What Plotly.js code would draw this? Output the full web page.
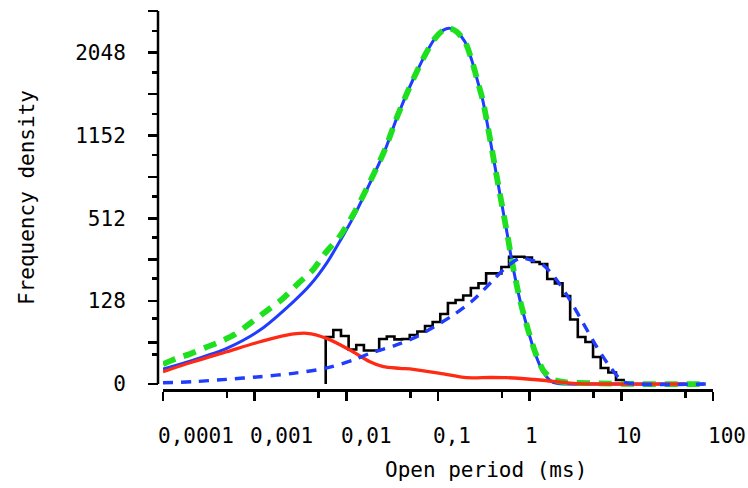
<!DOCTYPE html>
<html><head><meta charset="utf-8">
<script src="https://cdn.plot.ly/plotly-3.0.1.min.js"></script>
<style>html,body{margin:0;padding:0;background:#fff}#chart{width:748px;height:488px}</style>
</head><body><div id="chart"></div>
<script>
// ---- Data (open period in ms, frequency density) ----
const histEdges = [0.005957, 0.007216, 0.008743, 0.01059, 0.01283, 0.01555, 0.01884, 0.02282, 0.02765, 0.0335,
  0.04058, 0.04916, 0.05957, 0.07216, 0.08743, 0.1059, 0.1283, 0.1555, 0.1884, 0.2282,
  0.2765, 0.335, 0.4058, 0.4916, 0.5957, 0.7216, 0.8743, 1.059, 1.283, 1.555,
  1.884, 2.282, 2.765, 3.35, 4.058, 4.916, 5.957, 7.216, 8.743, 10.59];
const histDensity = [41.1, 54.3, 42.9, 22.2, 28.3, 20.9, 20.9, 37.7, 42.0, 37.2,
  37.7, 44.7, 51.3, 62.7, 71.6, 91.3, 122.2, 131.4, 145.9, 171.7,
  188.9, 228.3, 228.3, 255, 301.9, 301.9, 298, 277.2, 268.2, 205.4,
  188.9, 144.2, 77.5, 41.1, 32.9, 13.6, 4.77, 2.46, 0.30];

const totalX = [0.0001, 0.000141, 0.000197, 0.000287, 0.000419, 0.00061, 0.000889, 0.00147, 0.00205, 0.00299,
  0.00437, 0.00585, 0.008531, 0.01243, 0.01811, 0.02642, 0.0354, 0.04742, 0.05861, 0.07211,
  0.09268, 0.1143, 0.1352, 0.16, 0.1968, 0.2333, 0.2685, 0.3076, 0.3342, 0.4406,
  0.5848, 0.6368, 0.7834, 0.9594, 1.143, 1.409, 1.795, 2.535, 5.012, 15.85, 79.43];
const totalY = [7.4, 12.3, 16.8, 24.5, 33.3, 46, 68.6, 106.7, 137, 189,
  245, 318, 409, 556, 762, 1026, 1320, 1610, 1817, 2016,
  2226, 2334, 2357, 2312, 2183, 1955, 1721, 1502, 1331, 790,
  386, 286, 132, 55, 19.5, 3.5, 0.4, 0.05, 0.01, 0, 0];

const mainX = [0.0001, 0.000214, 0.000495, 0.001143, 0.002636, 0.004018, 0.006109, 0.008531, 0.01243, 0.01811,
  0.02642, 0.0354, 0.04742, 0.05861, 0.07211, 0.09268, 0.1143, 0.1352, 0.16, 0.1968,
  0.2333, 0.2685, 0.3076, 0.3342, 0.4406, 0.5848, 0.6368, 0.7834, 0.9594, 1.143,
  1.409, 1.795, 2.535, 5.012, 15.85, 79.43];
const mainY = [4.2, 10.7, 23.7, 54.3, 126, 182.6, 272.7, 381, 538, 753,
  1020, 1315, 1610, 1817, 2016, 2226, 2334, 2357, 2312, 2183,
  1955, 1721, 1502, 1331, 790, 386, 286, 131, 54, 18,
  2.5, 0.05, 0, 0, 0, 0];

const fastX = [0.0001, 0.000214, 0.000495, 0.001143, 0.002234, 0.003698, 0.006109, 0.01096, 0.01811, 0.02529,
  0.03846, 0.05383, 0.1052, 0.2056, 0.369, 0.5623, 1.297, 2.992, 6.918, 50.12];
const fastY = [2.82, 9.26, 19.4, 33.3, 44.7, 47.9, 38.9, 21.5, 9.26, 5.57,
  4.59, 4.0, 2.13, 0.74, 0.79, 0.74, 0.30, 0.01, 0, 0];

const slowX = [0.0001, 0.000214, 0.000495, 0.001143, 0.002636, 0.00585, 0.01191, 0.01811, 0.03251, 0.05383,
  0.08892, 0.1469, 0.2427, 0.4009, 0.561, 0.7834, 1.096, 1.409, 1.972, 2.754,
  3.846, 5.383, 7.516, 10.5, 14.69, 89.1];
const slowY = [0.03, 0.1, 0.41, 1.0, 2.13, 4.59, 10.7, 17.6, 26.9, 38.9,
  59.9, 88.7, 131.4, 201.5, 256.3, 294.4, 283.2, 263.8, 201.5, 131.4,
  68.6, 25.9, 5.57, 0.1, 0, 0];

const xTickVals = [0.0001, 0.001, 0.01, 0.1, 1, 10, 100];
const xTickText = ['0,0001', '0,001', '0,01', '0,1', '1', '10', '100'];
const xMinorVals = [0.0005, 0.005, 0.05, 0.5, 5, 50];
const yTickVals = [0, 32, 128, 288, 512, 800, 1152, 1568, 2048, 2592];
const yTickText = ['0', '', '128', '', '512', '', '1152', '', '2048', ''];
const yMinorVals = [16, 80, 208, 400, 656, 976, 1360, 1808, 2320];
const xTitle = 'Open period (ms)';
const yTitle = 'Frequency density';

// ---- Square-root y scale ----
const sq = v => Math.sqrt(Math.max(v, 0));
const FONT = 'DejaVu Sans Mono, Liberation Mono, monospace';
const FS = 21;

const hx = [histEdges[0]];
const hy = [0];
for (let i = 0; i < histDensity.length; i++) { hx.push(histEdges[i]); hy.push(sq(histDensity[i])); }
hx.push(histEdges[histEdges.length - 1]); hy.push(0);

const traces = [
  {x: hx, y: hy, type: 'scatter', mode: 'lines', line: {shape: 'hv', color: '#000000', width: 2.6}, hoverinfo: 'skip'},
  {x: mainX, y: mainY.map(sq), type: 'scatter', mode: 'lines', line: {shape: 'spline', smoothing: 0.8, color: '#1f3cff', width: 3}},
  {x: totalX, y: totalY.map(sq), type: 'scatter', mode: 'lines', line: {shape: 'spline', smoothing: 0.8, color: '#1ee01e', width: 5.8, dash: '13px,9px'}},
  {x: fastX, y: fastY.map(sq), type: 'scatter', mode: 'lines', line: {shape: 'spline', smoothing: 0.8, color: '#ff2a14', width: 3.3}},
  {x: slowX, y: slowY.map(sq), type: 'scatter', mode: 'lines', line: {shape: 'spline', smoothing: 0.8, color: '#1f3cff', width: 3.4, dash: '10px,8px'}}
];

const W = 555, L0 = 158, T0 = 11, H = 378;
const yTop = sq(2592) + 0.01;
const annotations = xTickVals.map((v, i) => ({
  x: Math.log10(v), xref: 'x', y: 0, yref: 'paper', yshift: -47, xshift: -7,
  text: xTickText[i], showarrow: false, xanchor: 'left', yanchor: 'middle',
  font: {family: FONT, size: FS, color: '#000'}
}));
annotations.push({x: (486 - L0) / W, xref: 'paper', y: (T0 + H - 470) / H, yref: 'paper', text: xTitle, showarrow: false,
  xanchor: 'center', yanchor: 'middle', font: {family: FONT, size: FS, color: '#000'}});
annotations.push({x: (27 - L0) / W, xref: 'paper', y: (T0 + H - 198) / H, yref: 'paper', text: yTitle, showarrow: false,
  textangle: -90, xanchor: 'center', yanchor: 'middle', font: {family: FONT, size: FS, color: '#000'}});

const layout = {
  width: 748, height: 488,
  margin: {l: L0, r: 748 - L0 - W, t: T0, b: 488 - T0 - H, pad: 0},
  paper_bgcolor: '#fff', plot_bgcolor: '#fff', showlegend: false,
  xaxis: {type: 'log', range: [-4, 2], domain: [5 / W, 1], anchor: 'y',
    showline: true, linecolor: '#000', linewidth: 2.5, showgrid: false, zeroline: false,
    ticks: 'outside', ticklen: 9, tickwidth: 2.5, tickcolor: '#000',
    tickmode: 'array', tickvals: xTickVals, showticklabels: false,
    minor: {ticks: 'outside', tickmode: 'array', tickvals: xMinorVals, ticklen: 6, tickwidth: 2.5, tickcolor: '#000', showgrid: false}
  },
  yaxis: {range: [-0.68, yTop], anchor: 'free', position: 0,
    showline: false, showgrid: false, zeroline: false,
    ticks: 'outside', ticklen: 10, tickwidth: 2.5, tickcolor: '#000',
    tickmode: 'array', tickvals: yTickVals.map(sq), ticktext: yTickText,
    tickfont: {family: FONT, size: FS, color: '#000'}, ticklabelstandoff: 18,
    minor: {ticks: 'outside', tickmode: 'array', tickvals: yMinorVals.map(sq), ticklen: 6, tickwidth: 2.5, tickcolor: '#000', showgrid: false}
  },
  shapes: [{type: 'line', xref: 'paper', yref: 'y', x0: 0, x1: 0, y0: 0, y1: sq(2592), line: {color: '#000', width: 2.5}}],
  annotations: annotations
};

Plotly.newPlot('chart', traces, layout, {displayModeBar: false, staticPlot: true});
</script>
</body></html>
